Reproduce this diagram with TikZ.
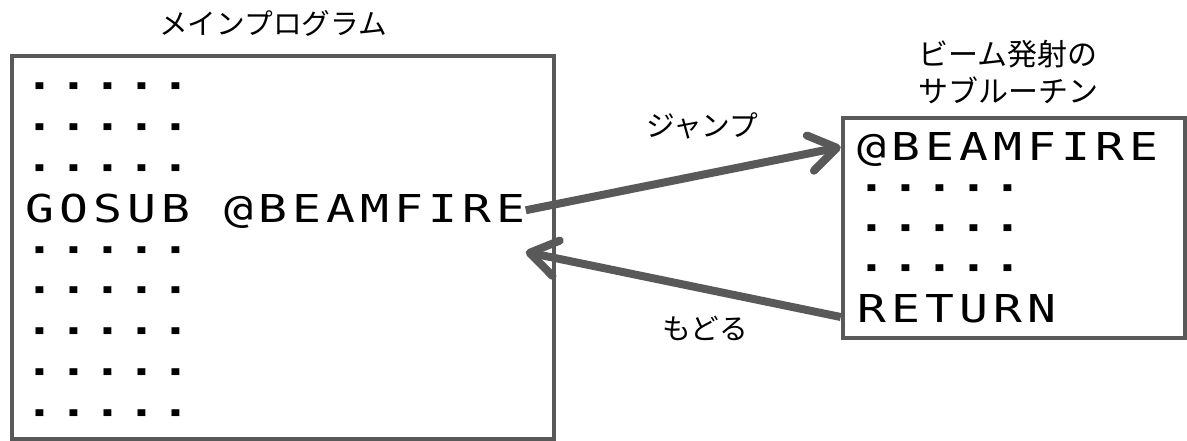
\documentclass[tikz,border=0pt]{standalone}
\usepackage{fontspec}
\usepackage{xcolor}
\usetikzlibrary{positioning, arrows.meta}
\newfontfamily\jpfont{Noto Sans CJK JP}
\newfontfamily\codefont[FakeStretch=1.25, LetterSpace=13.3]{DejaVu Sans Mono}
\definecolor{linegray}{RGB}{89,89,89}
\newcommand\dotrow{{\bfseries ·····}}

\begin{document}
\begin{tikzpicture}[
        x=1pt, y=-1pt,
        box/.style={rectangle, draw=linegray, line width=4.5pt, inner sep=0pt},
        code/.style={anchor=base west, inner sep=0pt, text height=28pt, text depth=0pt, font=\codefont\fontsize{38.4}{40}\selectfont},
        caption/.style={inner sep=0pt, text=black, align=center, font=\jpfont\fontsize{28.7}{37}\selectfont},
        arrow/.style={draw=linegray, line width=8pt, -{Straight Barb[length=27pt, width=36pt, round]}}
    ]
    \useasboundingbox (0,0) rectangle (1187,441);

    % ===== メインプログラム =====
    \node (mainBox) [box, minimum width=542pt, minimum height=383pt] at (283,247.5) {};
    \foreach \txt [count=\i] in {\dotrow, \dotrow, \dotrow, GOSUB @BEAMFIRE, \dotrow, \dotrow, \dotrow, \dotrow, \dotrow}
        \node (main\i) [code] at (25.5, {100+(\i-1)*40.75}) {\txt};

    % ===== サブルーチン =====
    \node (subBox) [box, minimum width=342pt, minimum height=220pt] at (1014,228) {};
    \foreach \txt [count=\i] in {@BEAMFIRE, \dotrow, \dotrow, \dotrow, RETURN}
        \node (sub\i) [code] at (857.5, {161+(\i-1)*40.25}) {\txt};

    % ===== 見出し =====
    \node (mainTitle) [caption, above=17pt of mainBox, xshift=-10pt] {メインプログラム};
    \node (subTitle) [caption, font=\jpfont\fontsize{30}{37}\selectfont, above=12pt of subBox, xshift=-6pt] {ビーム発射の\\サブルーチン};

    % ===== 矢印 =====
    \draw [arrow] ([yshift=-2pt]main4.east) -- (subBox.west |- sub1)
        node[caption, midway, above=36pt, xshift=19pt] {ジャンプ};
    \draw [arrow] ([yshift=-9pt]subBox.west |- sub5) -- ([yshift=-3pt]main4.east |- main5)
        node[caption, midway, below=28pt, xshift=22pt] {もどる};

\end{tikzpicture}
\end{document}
